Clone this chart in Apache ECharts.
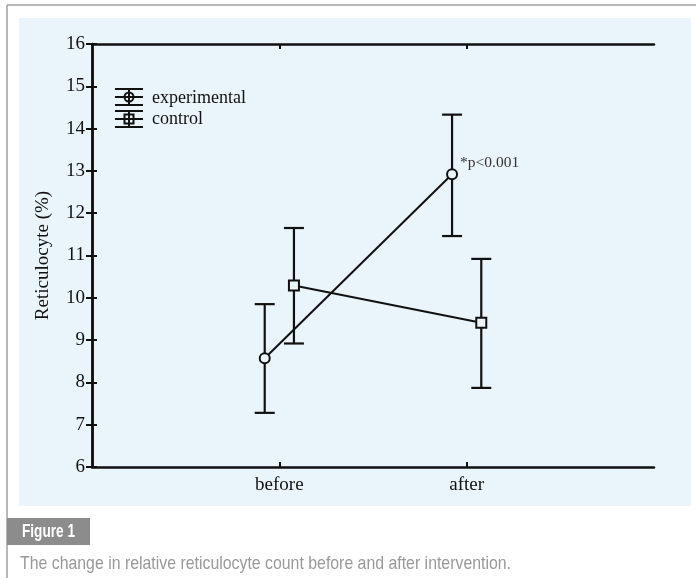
<!DOCTYPE html>
<html>
<head>
<meta charset="utf-8">
<script src="https://cdn.jsdelivr.net/npm/echarts@6/dist/echarts.min.js"></script>
<style>
html,body{margin:0;padding:0;background:#fff;}
#chart{width:696px;height:578px;}
</style>
</head>
<body>
<div id="chart"></div>
<script>
const categories = ['before', 'after'];
const seriesNames = ['experimental', 'control'];
const expMean = [8.57, 12.92];
const expLow = [7.28, 11.46];
const expHigh = [9.85, 14.33];
const ctrlMean = [10.29, 9.41];
const ctrlLow = [8.92, 7.87];
const ctrlHigh = [11.65, 10.92];
const yTicks = [6, 7, 8, 9, 10, 11, 12, 13, 14, 15, 16];
const annotation = '*p<0.001';
const captionLabel = 'Figure 1';
const captionText = 'The change in relative reticulocyte count before and after intervention.';

const OFF = 0.078; // horizontal dodge of the two groups
const BG = '#eaf4fb';
const INK = '#111';
const SERIF = '"Liberation Serif", "DejaVu Serif", serif';
const SANS = '"Liberation Sans", Arial, sans-serif';

function measure(text, font) {
  const c = document.createElement('canvas').getContext('2d');
  c.font = font;
  return c.measureText(text).width;
}
const capFont = '18.5px ' + SANS;
const figFont = 'bold 18px ' + SANS;
const capScale = 491 / measure(captionText, capFont);
const figScale = 53 / measure(captionLabel, figFont);

function pts(mean, off) {
  return mean.map((v, i) => [i + 1 + off, v]);
}
function bars(low, high, off) {
  return low.map((v, i) => [i + 1 + off, v, high[i]]);
}

function renderErr(params, api) {
  const x = api.value(0);
  const lo = api.coord([x, api.value(1)]);
  const hi = api.coord([x, api.value(2)]);
  const hw = 10;
  const st = { stroke: INK, lineWidth: 2.2 };
  return {
    type: 'group',
    children: [
      { type: 'line', shape: { x1: lo[0], y1: lo[1], x2: hi[0], y2: hi[1] }, style: st },
      { type: 'line', shape: { x1: hi[0] - hw, y1: hi[1], x2: hi[0] + hw, y2: hi[1] }, style: st },
      { type: 'line', shape: { x1: lo[0] - hw, y1: lo[1], x2: lo[0] + hw, y2: lo[1] }, style: st }
    ]
  };
}

const expPts = pts(expMean, -OFF);
expPts[1] = {
  value: expPts[1],
  label: {
    show: true, formatter: annotation, position: 'right', distance: 2, offset: [0, -11],
    fontFamily: SERIF, fontSize: 15.5, color: '#333'
  }
};

function legendSym(cx, cy, symbol) {
  const st = { stroke: INK, lineWidth: 2 };
  const hw = 14;
  const children = [
    { type: 'line', shape: { x1: cx, y1: cy - 8, x2: cx, y2: cy + 8 }, style: st },
    { type: 'line', shape: { x1: cx - hw, y1: cy - 8, x2: cx + hw, y2: cy - 8 }, style: st },
    { type: 'line', shape: { x1: cx - hw, y1: cy, x2: cx + hw, y2: cy }, style: st },
    { type: 'line', shape: { x1: cx - hw, y1: cy + 8, x2: cx + hw, y2: cy + 8 }, style: st }
  ];
  if (symbol === 'circle') {
    children.push({ type: 'circle', shape: { cx: cx, cy: cy, r: 4.5 }, style: { fill: 'none', stroke: INK, lineWidth: 2 } });
  } else {
    children.push({ type: 'rect', shape: { x: cx - 4.5, y: cy - 4.5, width: 9, height: 9 }, style: { fill: 'none', stroke: INK, lineWidth: 2 } });
  }
  return { type: 'group', z: 20, children: children };
}

const chart = echarts.init(document.getElementById('chart'), null, { renderer: 'canvas' });
chart.setOption({
  animation: false,
  backgroundColor: '#fff',
  graphic: [
    { type: 'rect', z: -20, shape: { x: 19, y: 18, width: 672, height: 488 }, style: { fill: BG } },
    { type: 'line', z: -20, shape: { x1: 7, y1: 5, x2: 696, y2: 5 }, style: { stroke: '#a0a0a0', lineWidth: 1.5 } },
    { type: 'line', z: -20, shape: { x1: 7, y1: 5, x2: 7, y2: 578 }, style: { stroke: '#a0a0a0', lineWidth: 1.5 } },
    { type: 'rect', z: -10, shape: { x: 7, y: 518, width: 83, height: 27 }, style: { fill: '#8c8c8c' } },
    { type: 'text', z: 10, x: 22, y: 532, scaleX: figScale, style: { text: captionLabel, fill: '#fff', font: figFont, verticalAlign: 'middle' } },
    { type: 'text', z: 10, x: 20, y: 564, scaleX: capScale, style: { text: captionText, fill: '#999', font: capFont, verticalAlign: 'middle' } },
    legendSym(129, 97, 'circle'),
    legendSym(129, 119, 'rect'),
    { type: 'text', z: 20, x: 152, y: 98, style: { text: seriesNames[0], fill: INK, font: '18px ' + SERIF, verticalAlign: 'middle' } },
    { type: 'text', z: 20, x: 152, y: 119, style: { text: seriesNames[1], fill: INK, font: '18px ' + SERIF, verticalAlign: 'middle' } }
  ],
  grid: { left: 92, top: 44, right: 42, bottom: 111, show: false },
  xAxis: [
    {
      type: 'value', min: 0, max: 3, interval: 1, position: 'bottom',
      axisLine: { show: true, lineStyle: { color: INK, width: 2.5 } },
      axisTick: { show: true, inside: true, length: 5, customValues: [1, 2], lineStyle: { color: INK, width: 2 } },
      axisLabel: {
        customValues: [1, 2], formatter: v => categories[Math.round(v) - 1] || '',
        fontFamily: SERIF, fontSize: 19, color: INK, margin: 9
      },
      splitLine: { show: false }
    },
    {
      type: 'value', min: 0, max: 3, interval: 1, position: 'top',
      axisLine: { show: true, lineStyle: { color: INK, width: 2.5 } },
      axisTick: { show: true, inside: true, length: 5, customValues: [1, 2], lineStyle: { color: INK, width: 2 } },
      axisLabel: { show: false },
      splitLine: { show: false }
    }
  ],
  yAxis: [
    {
      type: 'value', min: yTicks[0], max: yTicks[yTicks.length - 1], interval: 1, position: 'left',
      axisLine: { show: true, lineStyle: { color: INK, width: 2.5 } },
      axisTick: { show: true, inside: true, length: 5, lineStyle: { color: INK, width: 2 } },
      axisLabel: { fontFamily: SERIF, fontSize: 19, color: INK, margin: 7 },
      splitLine: { show: false },
      name: 'Reticulocyte (%)', nameLocation: 'middle', nameGap: 39, nameRotate: 90,
      nameTextStyle: { fontFamily: SERIF, fontSize: 19, color: INK }
    },
    {
      type: 'value', min: yTicks[0], max: yTicks[yTicks.length - 1], interval: 1, position: 'right',
      axisLine: { show: true, lineStyle: { color: INK, width: 2.5 } },
      axisTick: { show: true, inside: true, length: 6, lineStyle: { color: INK, width: 2 } },
      axisLabel: { show: false },
      splitLine: { show: false }
    }
  ],
  series: [
    {
      type: 'custom', name: seriesNames[0] + ' err', renderItem: renderErr,
      data: bars(expLow, expHigh, -OFF), encode: { x: 0, y: [1, 2] }, z: 3
    },
    {
      type: 'custom', name: seriesNames[1] + ' err', renderItem: renderErr,
      data: bars(ctrlLow, ctrlHigh, OFF), encode: { x: 0, y: [1, 2] }, z: 3
    },
    {
      type: 'line', name: seriesNames[0], data: expPts, z: 4,
      symbol: 'circle', symbolSize: 10,
      lineStyle: { color: INK, width: 2 },
      itemStyle: { color: BG, borderColor: INK, borderWidth: 2 }
    },
    {
      type: 'line', name: seriesNames[1], data: pts(ctrlMean, OFF), z: 4,
      symbol: 'rect', symbolSize: 10,
      lineStyle: { color: INK, width: 2 },
      itemStyle: { color: BG, borderColor: INK, borderWidth: 2 }
    }
  ]
});
</script>
</body>
</html>
